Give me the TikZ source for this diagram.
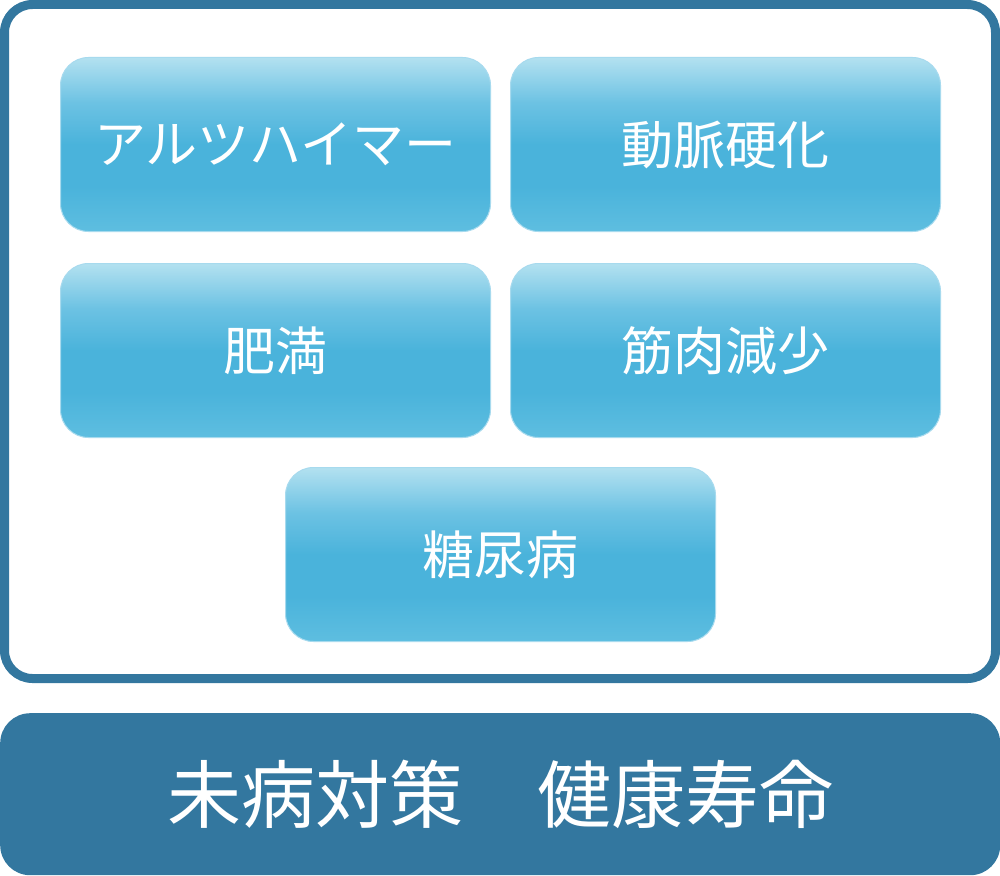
\documentclass[tikz,border=0pt]{standalone}
\usepackage{fontspec}
\newfontfamily\jpfont{Noto Sans CJK JP}
\definecolor{frameblue}{HTML}{33779F}
\definecolor{boxtop}{HTML}{B3E1F0}
\definecolor{boxmid}{HTML}{6CC2E3}
\definecolor{boxlow}{HTML}{4AB3DB}
\definecolor{boxbot}{HTML}{5EBEE0}
\pgfdeclareverticalshading{boxshade}{100bp}{%
  color(0bp)=(boxbot); color(25bp)=(boxbot); color(38bp)=(boxlow); color(50bp)=(boxlow);
  color(62bp)=(boxmid); color(75bp)=(boxtop); color(100bp)=(boxtop)}
\begin{document}
\begin{tikzpicture}[x=1pt,y=-1pt,
  diseasebox/.style={rounded corners=28pt, shading=boxshade, draw=boxmid!60!white, line width=1pt,
    minimum width=430pt, minimum height=174pt, inner sep=0pt,
    text=white, font=\jpfont\fontsize{52}{56}\selectfont, anchor=north west},
  outerframe/.style={draw=frameblue, line width=9pt, rounded corners=28pt, fill=white},
  basebar/.style={fill=frameblue, rounded corners=30pt, minimum width=1000pt, minimum height=162pt,
    inner sep=0pt, text=white, font=\jpfont\fontsize{74}{78}\selectfont, anchor=north west}]
\useasboundingbox (0,0) rectangle (1000,875);
\draw[outerframe] (4.5,4.5) rectangle (995.5,678.5);
\node[diseasebox] (alz) at (60,57) {アルツハイマー};
\node[diseasebox] (ather) at (510,57) {動脈硬化};
\node[diseasebox] (obes) at (60,263) {肥満};
\node[diseasebox] (sarco) at (510,263) {筋肉減少};
\node[diseasebox] (diab) at (285,467) {糖尿病};
\node[basebar] (base) at (0,713) {未病対策\hspace{1em}健康寿命};
\end{tikzpicture}
\end{document}
